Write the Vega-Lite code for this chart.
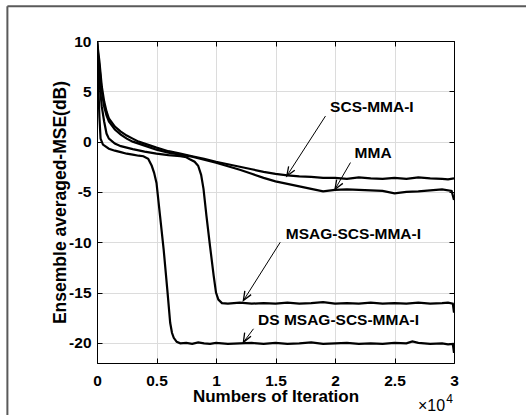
{
  "$schema": "https://vega.github.io/schema/vega-lite/v6.json",
  "width": 357,
  "height": 322,
  "autosize": "none",
  "padding": {"left": 97, "top": 41, "right": 72, "bottom": 52},
  "background": "white",
  "config": {"view": {"stroke": "black", "strokeWidth": 1}, "font": "Liberation Sans"},
  "datasets": {
    "curves": [
      {"s": "SCS-MMA-I",
       "x": [0,0.01,0.02,0.04,0.06,0.08,0.1,0.15,0.2,0.25,0.3,0.35,0.4,0.5,0.6,0.7,0.8,0.9,1.0,1.1,1.2,1.3,1.4,1.5,1.6,1.7,1.8,1.9,2.0,2.1,2.2,2.3,2.4,2.5,2.6,2.7,2.8,2.9,2.95,3.0],
       "y": [10,9,8,5.5,4,3,2.3,1.5,1.0,0.6,0.3,0.0,-0.2,-0.6,-0.95,-1.2,-1.45,-1.7,-2.0,-2.25,-2.5,-2.75,-3.0,-3.2,-3.35,-3.45,-3.5,-3.6,-3.6,-3.7,-3.55,-3.65,-3.7,-3.6,-3.7,-3.55,-3.65,-3.7,-3.75,-3.65]},
      {"s": "MMA",
       "x": [0,0.01,0.02,0.04,0.06,0.08,0.1,0.15,0.2,0.25,0.3,0.35,0.4,0.5,0.6,0.7,0.8,0.9,1.0,1.1,1.2,1.3,1.4,1.5,1.6,1.7,1.8,1.9,2.0,2.1,2.2,2.3,2.4,2.5,2.6,2.7,2.8,2.9,2.98,3.0],
       "y": [10,8.5,7.5,5,3.5,2.6,2.0,1.2,0.7,0.3,0.0,-0.2,-0.4,-0.8,-1.1,-1.3,-1.5,-1.8,-2.1,-2.45,-2.8,-3.2,-3.6,-3.95,-4.2,-4.45,-4.7,-4.95,-4.8,-4.75,-4.8,-4.85,-4.9,-5.15,-5.0,-4.95,-4.85,-4.75,-4.9,-5.8]},
      {"s": "MSAG-SCS-MMA-I",
       "x": [0,0.01,0.02,0.04,0.06,0.08,0.1,0.15,0.2,0.3,0.4,0.5,0.6,0.7,0.75,0.78,0.82,0.85,0.875,0.895,0.92,0.95,0.98,1.0,1.02,1.05,1.1,1.2,1.3,1.4,1.5,1.6,1.7,1.8,1.9,2.0,2.1,2.2,2.3,2.4,2.5,2.6,2.7,2.8,2.9,2.95,2.99,3.0],
       "y": [10,8,6,3.5,2,0.8,0.3,-0.2,-0.45,-0.75,-1.0,-1.2,-1.35,-1.45,-1.55,-1.75,-2.0,-2.4,-3.3,-4.7,-7.4,-10.4,-13.3,-15.0,-15.7,-16.05,-16.1,-16.0,-16.1,-16.05,-16.1,-16.0,-16.1,-16.05,-15.95,-16.1,-16.05,-16.1,-16.0,-16.1,-16.05,-16.1,-16.0,-16.1,-16.05,-16.0,-16.1,-17.0]},
      {"s": "DS MSAG-SCS-MMA-I",
       "x": [0,0.01,0.02,0.03,0.05,0.1,0.15,0.2,0.25,0.3,0.35,0.39,0.43,0.46,0.48,0.5,0.53,0.56,0.59,0.615,0.63,0.645,0.67,0.7,0.75,0.8,0.85,0.9,0.95,1.0,1.1,1.2,1.3,1.4,1.5,1.6,1.7,1.8,1.9,2.0,2.1,2.2,2.3,2.4,2.5,2.6,2.65,2.7,2.8,2.9,2.95,2.99,3.0],
       "y": [10,6,2.5,0.3,-0.3,-0.7,-0.9,-1.05,-1.2,-1.3,-1.4,-1.45,-1.7,-2.4,-3.1,-4.1,-7.4,-10.7,-14.6,-18.0,-19.0,-19.5,-19.9,-20.05,-20.0,-20.1,-19.95,-20.05,-20.1,-20.0,-20.1,-20.05,-20.0,-20.1,-20.0,-20.1,-20.05,-19.95,-20.1,-20.05,-20.0,-20.1,-20.05,-20.1,-20.0,-20.05,-19.85,-20.0,-20.1,-20.05,-20.15,-20.1,-21.0]}
    ],
    "arrows": [
      {"x": 1.92, "y": 2.54, "x2": 1.595, "y2": -3.41},
      {"x": 2.13, "y": -2.08, "x2": 2.0, "y2": -4.73},
      {"x": 1.54, "y": -10.0, "x2": 1.23, "y2": -15.8},
      {"x": 1.315, "y": -18.6, "x2": 1.23, "y2": -19.95}
    ],
    "heads": [
      {"label": "SCS-MMA-I", "x": 1.595, "y": -3.41},
      {"label": "MMA", "x": 2.0, "y": -4.73},
      {"label": "MSAG-SCS-MMA-I", "x": 1.23, "y": -15.8},
      {"label": "DS MSAG-SCS-MMA-I", "x": 1.23, "y": -19.95}
    ],
    "labels": [
      {"t": "SCS-MMA-I", "x": 2.31, "y": 3.4},
      {"t": "MMA", "x": 2.32, "y": -1.16},
      {"t": "MSAG-SCS-MMA-I", "x": 2.155, "y": -9.2},
      {"t": "DS MSAG-SCS-MMA-I", "x": 2.03, "y": -17.7}
    ],
    "mult": [{"t": "×10", "x": 2.925, "y": -26.23}],
    "expo": [{"t": "4", "x": 2.935, "y": -25.6}],
    "frame": [
      {"x": -0.753, "y": 13.45, "x2": -0.753, "y2": -30},
      {"x": -0.753, "y": 13.45, "x2": 3.7, "y2": 13.45}
    ]
  },
  "layer": [
    {
      "encoding": {
        "x": {"field": "x", "type": "quantitative",
          "scale": {"domain": [0, 3], "nice": false, "zero": false},
          "axis": {"title": "Numbers of Iteration", "values": [0,0.5,1,1.5,2,2.5,3], "labelExpr": "'' + datum.value",
            "grid": true, "gridColor": "#dcdcdc", "gridWidth": 1, "tickSize": -5, "tickColor": "black", "domainColor": "black",
            "labelFont": "Liberation Sans", "labelFontWeight": "bold", "labelFontSize": 15.5, "labelColor": "black", "labelPadding": 15,
            "labelFlush": false, "labelOverlap": false,
            "titleFont": "Liberation Sans", "titleFontWeight": "bold", "titleFontSize": 17, "titleColor": "black", "titlePadding": 0}},
        "y": {"field": "y", "type": "quantitative",
          "scale": {"domain": [-22, 10], "nice": false, "zero": false},
          "axis": {"title": "Ensemble averaged-MSE(dB)", "values": [-20,-15,-10,-5,0,5,10], "labelExpr": "'' + datum.value",
            "grid": true, "gridColor": "#dcdcdc", "gridWidth": 1, "tickSize": -5, "tickColor": "black", "domainColor": "black",
            "labelFont": "Liberation Sans", "labelFontWeight": "bold", "labelFontSize": 15.5, "labelColor": "black", "labelPadding": 11,
            "labelFlush": false, "labelOverlap": false,
            "titleFont": "Liberation Sans", "titleFontWeight": "bold", "titleFontSize": 17.5, "titleColor": "black", "titlePadding": -1}}
      },
      "layer": [
        {"data": {"name": "frame"},
         "mark": {"type": "rule", "color": "#5a5a5a", "strokeWidth": 2},
         "encoding": {"x2": {"field": "x2"}, "y2": {"field": "y2"}}},
        {"data": {"name": "curves"},
         "transform": [{"flatten": ["x", "y"]}],
         "mark": {"type": "line", "color": "black", "strokeWidth": 2.2, "clip": true},
         "encoding": {"detail": {"field": "s"}}},
        {"data": {"name": "arrows"},
         "mark": {"type": "rule", "color": "black", "strokeWidth": 1},
         "encoding": {"x2": {"field": "x2"}, "y2": {"field": "y2"}}},
        {"data": {"name": "heads"},
         "mark": {"type": "point", "shape": "M-0.4,-1L0,0L0.4,-1", "filled": false, "stroke": "black", "strokeWidth": 1.3, "size": 330, "opacity": 1},
         "encoding": {"angle": {"field": "label", "type": "nominal",
           "scale": {"domain": ["SCS-MMA-I", "MMA", "MSAG-SCS-MMA-I", "DS MSAG-SCS-MMA-I"], "range": [32.6, 29.3, 32.1, 36.9]}, "legend": null}}},
        {"data": {"name": "labels"},
         "mark": {"type": "text", "font": "Liberation Sans", "fontWeight": "bold", "fontSize": 15.5, "align": "center", "baseline": "middle", "color": "black"},
         "encoding": {"text": {"field": "t"}}},
        {"data": {"name": "mult"},
         "mark": {"type": "text", "font": "Liberation Sans", "fontSize": 16, "align": "right", "baseline": "middle", "color": "black"},
         "encoding": {"text": {"field": "t"}}},
        {"data": {"name": "expo"},
         "mark": {"type": "text", "font": "Liberation Sans", "fontSize": 12, "align": "left", "baseline": "middle", "color": "black"},
         "encoding": {"text": {"field": "t"}}}
      ]
    },
    {
      "data": {"name": "curves"},
      "transform": [{"flatten": ["x", "y"]}],
      "mark": {"type": "point", "opacity": 0},
      "encoding": {
        "x": {"field": "x", "type": "quantitative",
          "scale": {"domain": [0, 3], "nice": false, "zero": false},
          "axis": {"orient": "top", "title": null, "labels": false, "grid": false, "values": [0,0.5,1,1.5,2,2.5,3],
            "tickSize": -5, "tickColor": "black", "domainColor": "black"}},
        "y": {"field": "y", "type": "quantitative",
          "scale": {"domain": [-22, 10], "nice": false, "zero": false},
          "axis": {"orient": "right", "title": null, "labels": false, "grid": false, "values": [-20,-15,-10,-5,0,5,10],
            "tickSize": -5, "tickColor": "black", "domainColor": "black"}}
      }
    }
  ],
  "resolve": {"scale": {"x": "independent", "y": "independent"}}
}
